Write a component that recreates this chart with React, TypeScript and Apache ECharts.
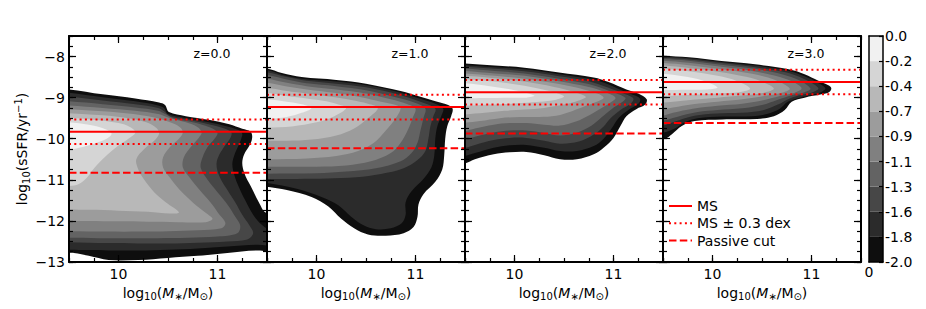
import { useEffect, useRef } from 'react';
import * as echarts from 'echarts';

const FONT = 'DejaVu Sans';

// ---------- data ----------
const redshiftLabels = ['z=0.0', 'z=1.0', 'z=2.0', 'z=3.0'];
const msLine = [-9.83, -9.23, -8.87, -8.62];
const msUpper = [-9.53, -8.93, -8.57, -8.32];
const msLower = [-10.13, -9.53, -9.17, -8.92];
const passiveCut = [-10.83, -10.23, -9.87, -9.62];

const majorXTicks = [10, 11];
const majorYTicks = [-13, -12, -11, -10, -9, -8];

// contour band colours, from level -2.0 (outermost) to 0.0 (innermost)
const levelColors = ['#0e0e0e', '#2b2b2b', '#474747', '#636363', '#808080', '#9c9c9c', '#b8b8b8', '#d5d5d5', '#f1f1f1'];
const colorbarTicks = ['-2.0', '-1.8', '-1.6', '-1.3', '-1.1', '-0.9', '-0.7', '-0.4', '-0.2', '0.0'];

// contour outlines [log M*, log sSFR], outermost first
const contoursZ0 = [
  [[9.3,-8.77],[9.5,-8.8],[9.84,-8.92],[10.17,-9.02],[10.41,-9.12],[10.47,-9.18],[10.51,-9.35],[10.68,-9.45],[10.91,-9.54],[11.12,-9.65],[11.25,-9.76],[11.335,-9.83],[11.35,-9.98],[11.32,-10.18],[11.27,-10.38],[11.25,-10.59],[11.27,-10.83],[11.3,-11.0],[11.335,-11.15],[11.42,-11.56],[11.49,-11.8],[11.7,-11.85],[11.7,-12.75],[11.4,-12.72],[11.1,-12.78],[10.8,-12.85],[10.5,-12.9],[10.2,-12.95],[9.9,-12.95],[9.7,-12.85],[9.55,-12.78],[9.3,-12.74]],
  [[9.3,-8.85],[9.5,-8.88],[9.84,-8.99],[10.17,-9.09],[10.4,-9.19],[10.46,-9.25],[10.5,-9.4],[10.68,-9.5],[10.9,-9.59],[11.1,-9.7],[11.22,-9.8],[11.25,-9.88],[11.24,-10.0],[11.21,-10.18],[11.17,-10.4],[11.15,-10.62],[11.17,-10.88],[11.22,-11.2],[11.28,-11.5],[11.36,-11.85],[11.45,-12.1],[11.55,-12.25],[11.7,-12.3],[11.7,-12.6],[11.4,-12.58],[11.1,-12.62],[10.8,-12.67],[10.5,-12.7],[10.2,-12.72],[9.9,-12.72],[9.7,-12.71],[9.5,-12.7],[9.3,-12.69]],
  [[9.3,-8.95],[9.5,-8.98],[9.84,-9.07],[10.17,-9.16],[10.4,-9.25],[10.46,-9.33],[10.52,-9.45],[10.7,-9.54],[10.9,-9.64],[11.07,-9.75],[11.14,-9.85],[11.13,-9.98],[11.08,-10.15],[11.02,-10.38],[10.99,-10.62],[11.02,-10.92],[11.1,-11.25],[11.18,-11.55],[11.25,-11.85],[11.32,-12.1],[11.36,-12.3],[11.3,-12.45],[11.1,-12.5],[10.8,-12.53],[10.5,-12.55],[10.2,-12.55],[9.9,-12.54],[9.5,-12.52],[9.3,-12.51]],
  [[9.3,-9.06],[9.5,-9.09],[9.84,-9.16],[10.17,-9.24],[10.4,-9.32],[10.47,-9.4],[10.55,-9.5],[10.75,-9.6],[10.92,-9.72],[11.0,-9.85],[10.97,-10.0],[10.9,-10.2],[10.85,-10.45],[10.83,-10.7],[10.9,-11.0],[11.0,-11.3],[11.1,-11.6],[11.18,-11.9],[11.23,-12.12],[11.2,-12.3],[11.0,-12.38],[10.7,-12.41],[10.4,-12.42],[10.1,-12.42],[9.8,-12.42],[9.5,-12.41],[9.3,-12.4]],
  [[9.3,-9.16],[9.5,-9.19],[9.84,-9.25],[10.17,-9.32],[10.4,-9.4],[10.52,-9.5],[10.68,-9.6],[10.8,-9.72],[10.84,-9.85],[10.81,-9.98],[10.73,-10.2],[10.66,-10.45],[10.65,-10.7],[10.72,-10.95],[10.82,-11.25],[10.93,-11.55],[11.02,-11.85],[11.08,-12.05],[11.04,-12.18],[10.8,-12.23],[10.5,-12.25],[10.2,-12.26],[9.9,-12.26],[9.5,-12.25],[9.3,-12.25]],
  [[9.3,-9.26],[9.5,-9.28],[9.84,-9.33],[10.15,-9.4],[10.35,-9.48],[10.52,-9.6],[10.62,-9.72],[10.65,-9.85],[10.61,-10.0],[10.52,-10.2],[10.45,-10.45],[10.45,-10.7],[10.52,-10.95],[10.62,-11.25],[10.75,-11.55],[10.88,-11.8],[10.95,-11.95],[10.88,-12.03],[10.6,-12.03],[10.3,-12.02],[10.0,-12.01],[9.7,-12.0],[9.5,-12.0],[9.3,-12.0]],
  [[9.3,-9.36],[9.5,-9.38],[9.84,-9.43],[10.1,-9.5],[10.28,-9.6],[10.38,-9.73],[10.41,-9.87],[10.36,-10.05],[10.26,-10.25],[10.18,-10.5],[10.2,-10.75],[10.26,-11.0],[10.36,-11.3],[10.48,-11.55],[10.61,-11.79],[10.52,-11.82],[10.3,-11.78],[10.0,-11.75],[9.7,-11.73],[9.5,-11.72],[9.3,-11.72]],
  [[9.3,-9.47],[9.5,-9.49],[9.8,-9.55],[10.0,-9.62],[10.12,-9.72],[10.17,-9.85],[10.1,-10.0],[9.98,-10.2],[9.86,-10.45],[9.76,-10.7],[9.68,-10.95],[9.6,-11.1],[9.5,-11.15],[9.3,-11.17]],
  [[9.3,-9.58],[9.5,-9.6],[9.7,-9.66],[9.85,-9.75],[9.93,-9.87],[9.88,-10.0],[9.75,-10.12],[9.6,-10.22],[9.5,-10.27],[9.3,-10.3]],
];

const contoursZ1 = [
  [[9.3,-8.26],[9.5,-8.29],[9.65,-8.4],[9.85,-8.5],[10.2,-8.57],[10.5,-8.66],[10.85,-8.84],[11.05,-8.98],[11.22,-9.1],[11.33,-9.18],[11.375,-9.27],[11.36,-9.45],[11.32,-9.7],[11.3,-10.0],[11.29,-10.4],[11.27,-10.75],[11.2,-11.05],[11.08,-11.35],[11.03,-11.6],[11.02,-11.9],[10.98,-12.15],[10.88,-12.3],[10.7,-12.36],[10.52,-12.33],[10.38,-12.18],[10.25,-11.95],[10.12,-11.65],[9.95,-11.42],[9.7,-11.25],[9.5,-11.17],[9.3,-11.12]],
  [[9.3,-8.3],[9.5,-8.33],[9.65,-8.44],[9.85,-8.54],[10.2,-8.61],[10.5,-8.7],[10.85,-8.88],[11.05,-9.03],[11.2,-9.15],[11.28,-9.27],[11.26,-9.45],[11.22,-9.7],[11.2,-10.0],[11.19,-10.4],[11.16,-10.7],[11.08,-10.98],[10.96,-11.28],[10.9,-11.55],[10.9,-11.85],[10.86,-12.06],[10.75,-12.18],[10.6,-12.2],[10.47,-12.1],[10.35,-11.9],[10.22,-11.62],[10.05,-11.42],[9.8,-11.22],[9.5,-11.08],[9.3,-11.04]],
  [[9.3,-8.35],[9.5,-8.38],[9.7,-8.5],[9.9,-8.59],[10.2,-8.66],[10.5,-8.75],[10.85,-8.94],[11.05,-9.1],[11.2,-9.27],[11.18,-9.45],[11.15,-9.7],[11.13,-10.0],[11.1,-10.3],[11.02,-10.52],[10.88,-10.72],[10.65,-10.86],[10.4,-10.94],[10.1,-10.97],[9.8,-10.98],[9.5,-10.98],[9.3,-10.98]],
  [[9.3,-8.42],[9.5,-8.45],[9.7,-8.56],[9.9,-8.65],[10.2,-8.72],[10.5,-8.82],[10.8,-8.99],[11.0,-9.13],[11.1,-9.27],[11.08,-9.5],[11.05,-9.8],[11.02,-10.1],[10.96,-10.35],[10.85,-10.55],[10.6,-10.72],[10.3,-10.8],[10.0,-10.84],[9.5,-10.85],[9.3,-10.85]],
  [[9.3,-8.51],[9.5,-8.54],[9.7,-8.64],[9.9,-8.72],[10.2,-8.8],[10.5,-8.9],[10.75,-9.04],[10.92,-9.16],[11.0,-9.27],[10.97,-9.5],[10.92,-9.8],[10.85,-10.1],[10.75,-10.35],[10.55,-10.55],[10.3,-10.65],[10.0,-10.68],[9.5,-10.68],[9.3,-10.68]],
  [[9.3,-8.61],[9.5,-8.64],[9.7,-8.73],[9.9,-8.8],[10.2,-8.89],[10.45,-8.99],[10.65,-9.1],[10.8,-9.18],[10.85,-9.26],[10.8,-9.5],[10.7,-9.8],[10.58,-10.1],[10.42,-10.3],[10.2,-10.42],[9.9,-10.48],[9.5,-10.5],[9.3,-10.5]],
  [[9.3,-8.73],[9.5,-8.76],[9.7,-8.84],[9.9,-8.9],[10.15,-8.98],[10.35,-9.06],[10.52,-9.15],[10.62,-9.25],[10.52,-9.5],[10.38,-9.75],[10.2,-9.92],[9.95,-10.02],[9.7,-10.05],[9.5,-10.05],[9.3,-10.05]],
  [[9.3,-8.86],[9.5,-8.89],[9.7,-8.96],[9.9,-9.02],[10.1,-9.09],[10.22,-9.17],[10.3,-9.25],[10.18,-9.45],[10.0,-9.6],[9.75,-9.7],[9.5,-9.73],[9.3,-9.73]],
  [[9.3,-9.02],[9.5,-9.04],[9.7,-9.1],[9.85,-9.16],[9.95,-9.25],[9.85,-9.37],[9.7,-9.47],[9.5,-9.52],[9.3,-9.52]],
];

const contoursZ2 = [
  [[9.3,-8.16],[9.5,-8.17],[9.8,-8.22],[10.1,-8.27],[10.45,-8.39],[10.8,-8.51],[10.95,-8.62],[11.13,-8.8],[11.25,-8.9],[11.335,-9.04],[11.32,-9.17],[11.23,-9.28],[11.13,-9.45],[11.07,-9.69],[11.0,-9.98],[10.9,-10.22],[10.8,-10.38],[10.63,-10.5],[10.46,-10.5],[10.3,-10.4],[10.12,-10.32],[9.95,-10.33],[9.79,-10.38],[9.6,-10.5],[9.5,-10.6],[9.3,-10.68]],
  [[9.3,-8.2],[9.5,-8.21],[9.8,-8.26],[10.1,-8.31],[10.45,-8.43],[10.8,-8.56],[10.95,-8.68],[11.12,-8.86],[11.22,-8.95],[11.27,-9.04],[11.25,-9.15],[11.15,-9.3],[11.05,-9.5],[10.98,-9.75],[10.9,-10.0],[10.8,-10.18],[10.63,-10.3],[10.46,-10.3],[10.3,-10.22],[10.12,-10.15],[9.95,-10.16],[9.79,-10.22],[9.6,-10.35],[9.5,-10.42],[9.3,-10.5]],
  [[9.3,-8.24],[9.5,-8.25],[9.8,-8.3],[10.1,-8.36],[10.45,-8.48],[10.75,-8.6],[10.95,-8.76],[11.1,-8.9],[11.2,-9.02],[11.17,-9.15],[11.07,-9.3],[10.97,-9.5],[10.9,-9.7],[10.8,-9.9],[10.65,-10.07],[10.46,-10.12],[10.3,-10.05],[10.12,-9.98],[9.95,-9.98],[9.79,-10.03],[9.6,-10.15],[9.5,-10.22],[9.3,-10.3]],
  [[9.3,-8.28],[9.5,-8.29],[9.8,-8.35],[10.1,-8.41],[10.45,-8.54],[10.75,-8.67],[10.95,-8.83],[11.12,-9.0],[11.08,-9.12],[10.98,-9.28],[10.88,-9.48],[10.78,-9.68],[10.62,-9.86],[10.46,-9.92],[10.3,-9.86],[10.12,-9.8],[9.95,-9.8],[9.79,-9.85],[9.6,-9.95],[9.5,-10.02],[9.3,-10.08]],
  [[9.3,-8.34],[9.5,-8.35],[9.8,-8.41],[10.1,-8.47],[10.45,-8.6],[10.75,-8.74],[10.92,-8.87],[11.02,-9.0],[10.98,-9.1],[10.88,-9.25],[10.76,-9.42],[10.62,-9.58],[10.46,-9.68],[10.3,-9.66],[10.12,-9.62],[9.95,-9.62],[9.79,-9.66],[9.6,-9.75],[9.5,-9.81],[9.3,-9.86]],
  [[9.3,-8.4],[9.5,-8.41],[9.8,-8.47],[10.1,-8.54],[10.45,-8.67],[10.7,-8.8],[10.85,-8.91],[10.9,-9.0],[10.85,-9.08],[10.72,-9.2],[10.58,-9.33],[10.42,-9.44],[10.25,-9.47],[10.05,-9.47],[9.85,-9.5],[9.65,-9.57],[9.5,-9.61],[9.3,-9.65]],
  [[9.3,-8.46],[9.5,-8.47],[9.8,-8.53],[10.1,-8.61],[10.4,-8.74],[10.6,-8.86],[10.72,-8.98],[10.65,-9.07],[10.5,-9.17],[10.3,-9.25],[10.1,-9.29],[9.9,-9.32],[9.7,-9.37],[9.5,-9.41],[9.3,-9.44]],
  [[9.3,-8.54],[9.5,-8.55],[9.8,-8.61],[10.1,-8.71],[10.35,-8.84],[10.5,-8.97],[10.42,-9.05],[10.25,-9.1],[10.0,-9.14],[9.75,-9.17],[9.5,-9.2],[9.3,-9.22]],
  [[9.3,-8.64],[9.5,-8.65],[9.75,-8.72],[10.0,-8.82],[10.2,-8.95],[10.12,-9.0],[9.95,-9.0],[9.7,-9.01],[9.5,-9.02],[9.3,-9.03]],
];

const contoursZ3 = [
  [[9.3,-7.97],[9.5,-7.98],[9.76,-8.02],[10.09,-8.11],[10.43,-8.19],[10.77,-8.31],[10.93,-8.43],[11.07,-8.59],[11.17,-8.7],[11.2,-8.77],[11.18,-8.86],[11.1,-8.92],[10.93,-9.0],[10.8,-9.1],[10.73,-9.3],[10.62,-9.45],[10.45,-9.52],[10.1,-9.53],[9.82,-9.57],[9.69,-9.69],[9.59,-9.89],[9.52,-10.0],[9.3,-10.02]],
  [[9.3,-7.99],[9.5,-8.0],[9.76,-8.04],[10.09,-8.13],[10.43,-8.22],[10.77,-8.35],[10.93,-8.48],[11.06,-8.63],[11.14,-8.77],[11.1,-8.86],[11.0,-8.93],[10.88,-9.0],[10.76,-9.1],[10.68,-9.27],[10.55,-9.4],[10.4,-9.45],[10.1,-9.46],[9.85,-9.5],[9.72,-9.6],[9.62,-9.75],[9.5,-9.85],[9.3,-9.88]],
  [[9.3,-8.02],[9.5,-8.03],[9.76,-8.07],[10.09,-8.16],[10.43,-8.26],[10.75,-8.39],[10.92,-8.54],[11.02,-8.67],[11.07,-8.78],[11.02,-8.86],[10.9,-8.93],[10.78,-9.02],[10.66,-9.17],[10.52,-9.3],[10.35,-9.36],[10.1,-9.38],[9.87,-9.42],[9.72,-9.5],[9.6,-9.6],[9.5,-9.68],[9.3,-9.72]],
  [[9.3,-8.05],[9.5,-8.06],[9.76,-8.1],[10.09,-8.2],[10.43,-8.3],[10.72,-8.44],[10.88,-8.58],[10.99,-8.78],[10.93,-8.87],[10.8,-8.94],[10.66,-9.05],[10.5,-9.18],[10.3,-9.26],[10.05,-9.3],[9.85,-9.35],[9.7,-9.43],[9.5,-9.56],[9.3,-9.6]],
  [[9.3,-8.09],[9.5,-8.1],[9.76,-8.15],[10.09,-8.25],[10.4,-8.35],[10.68,-8.5],[10.83,-8.64],[10.9,-8.78],[10.83,-8.88],[10.68,-8.96],[10.5,-9.07],[10.3,-9.15],[10.05,-9.2],[9.8,-9.27],[9.6,-9.37],[9.5,-9.44],[9.3,-9.48]],
  [[9.3,-8.15],[9.5,-8.16],[9.76,-8.21],[10.09,-8.31],[10.4,-8.42],[10.62,-8.56],[10.78,-8.78],[10.7,-8.88],[10.52,-8.96],[10.3,-9.04],[10.05,-9.1],[9.8,-9.16],[9.6,-9.24],[9.5,-9.28],[9.3,-9.3]],
  [[9.3,-8.21],[9.5,-8.22],[9.76,-8.28],[10.09,-8.38],[10.35,-8.5],[10.52,-8.63],[10.62,-8.78],[10.52,-8.88],[10.3,-8.95],[10.05,-9.0],[9.8,-9.05],[9.6,-9.1],[9.5,-9.12],[9.3,-9.13]],
  [[9.3,-8.29],[9.5,-8.3],[9.76,-8.36],[10.05,-8.47],[10.25,-8.6],[10.38,-8.78],[10.28,-8.86],[10.05,-8.9],[9.8,-8.93],[9.5,-8.96],[9.3,-8.97]],
  [[9.3,-8.41],[9.5,-8.42],[9.7,-8.48],[9.9,-8.58],[10.05,-8.75],[9.95,-8.8],[9.75,-8.81],[9.5,-8.82],[9.3,-8.82]],
];

const panelContours = [contoursZ0, contoursZ1, contoursZ2, contoursZ3];

// ---------- layout ----------
const PANEL_LEFT = 69;
const PANEL_W = 198;
const PANEL_TOP = 36;
const PANEL_H = 226;

const BLACK = '#000';

const rich = {
  n: { fontSize: 14, fontFamily: FONT, color: BLACK, lineHeight: 18 },
  it: { fontSize: 14, fontFamily: FONT, color: BLACK, lineHeight: 18, fontStyle: 'italic' },
  sub: { fontSize: 10, fontFamily: FONT, color: BLACK, lineHeight: 8, verticalAlign: 'bottom' },
  sup: { fontSize: 10, fontFamily: FONT, color: BLACK, lineHeight: 8, verticalAlign: 'top' },
};
const xName = '{n|log}{sub|10}{n|(}{it|M}{sub|\u2217}{n|/M}{sub|\u2299}{n|)}';
const yName = '{n|log}{sub|10}{n|(sSFR/yr}{sup|\u22121}{n|)}';

function makeXAxes(p: number) {
  const base: any = { type: 'value', gridIndex: p, min: 9.5, max: 11.5, interval: 0.25, splitLine: { show: false }, z: 6 };
  const lineOn = { show: true, onZero: false, lineStyle: { color: BLACK, width: 2 } };
  const lineOff = { show: false, onZero: false };
  const minorTick = { show: true, inside: true, length: 4, lineStyle: { color: BLACK, width: 1.2 } };
  const majorTick = { show: true, inside: true, length: 7, customValues: majorXTicks, lineStyle: { color: BLACK, width: 1.2 } };
  return [
    { ...base, position: 'bottom', axisLine: lineOn, axisTick: minorTick, axisLabel: { show: false } },
    {
      ...base, position: 'bottom', axisLine: lineOff, axisTick: majorTick,
      axisLabel: {
        show: true, customValues: majorXTicks, margin: 5, fontSize: 14, fontFamily: FONT, color: BLACK,
        formatter: (v: number) => (Number.isInteger(v) ? String(v) : ''),
      },
      name: xName, nameLocation: 'middle', nameGap: 19, nameTextStyle: { rich },
    },
    { ...base, position: 'top', axisLine: lineOn, axisTick: minorTick, axisLabel: { show: false } },
    { ...base, position: 'top', axisLine: lineOff, axisTick: majorTick, axisLabel: { show: false } },
  ];
}

function makeYAxes(p: number) {
  const base: any = { type: 'value', gridIndex: p, min: -13, max: -7.5, interval: 0.25, splitLine: { show: false }, z: 6 };
  const lineOn = { show: true, onZero: false, lineStyle: { color: BLACK, width: 2 } };
  const lineOff = { show: false, onZero: false };
  const minorTick = { show: true, inside: true, length: 4, lineStyle: { color: BLACK, width: 1.2 } };
  const majorTick = { show: true, inside: true, length: 7, customValues: majorYTicks, lineStyle: { color: BLACK, width: 1.2 } };
  const first = p === 0;
  return [
    { ...base, position: 'left', axisLine: lineOn, axisTick: minorTick, axisLabel: { show: false } },
    {
      ...base, position: 'left', axisLine: lineOff, axisTick: majorTick,
      axisLabel: first
        ? {
            show: true, customValues: majorYTicks, margin: 4, fontSize: 14, fontFamily: FONT, color: BLACK,
            formatter: (v: number) => (Number.isInteger(v) ? (v < 0 ? '\u2212' : '') + Math.abs(v) : ''),
          }
        : { show: false },
      ...(first ? { name: yName, nameLocation: 'middle', nameGap: 38, nameRotate: 90, nameTextStyle: { rich } } : {}),
    },
    { ...base, position: 'right', axisLine: lineOn, axisTick: minorTick, axisLabel: { show: false } },
    { ...base, position: 'right', axisLine: lineOff, axisTick: majorTick, axisLabel: { show: false } },
  ];
}

function contourSeries(p: number) {
  const polys = panelContours[p];
  return {
    type: 'custom',
    xAxisIndex: p * 4 + 1,
    yAxisIndex: p * 4 + 1,
    clip: true,
    silent: true,
    z: 1,
    data: polys.map((_, i) => [10.5, -10, i]),
    renderItem: (_params: any, api: any) => {
      const idx = api.value(2);
      const pts = polys[idx].map((pt) => api.coord(pt));
      return {
        type: 'polygon',
        shape: { points: pts, smooth: 0.35 },
        style: { fill: levelColors[idx], stroke: null },
      };
    },
  };
}

function refLine(p: number, name: string, val: number, type: any) {
  return {
    type: 'line',
    name,
    xAxisIndex: p * 4 + 1,
    yAxisIndex: p * 4 + 1,
    data: [[9.5, val], [11.5, val]],
    symbol: 'none',
    showSymbol: false,
    silent: true,
    z: 4,
    lineStyle: { color: '#ff0000', width: 2, type },
    itemStyle: { color: '#ff0000' },
  };
}

export default function App() {
  const ref = useRef<HTMLDivElement>(null);

  useEffect(() => {
    document.body.style.margin = '0';
    const chart = echarts.init(ref.current!, null, { renderer: 'svg' });

    const grids: any[] = [0, 1, 2, 3].map((p) => ({
      left: PANEL_LEFT + p * PANEL_W, top: PANEL_TOP, width: PANEL_W, height: PANEL_H, containLabel: false,
    }));
    grids.push({ left: 869, top: PANEL_TOP, width: 14, height: PANEL_H, containLabel: false });

    const xAxes: any[] = [];
    const yAxes: any[] = [];
    for (let p = 0; p < 4; p++) {
      xAxes.push(...makeXAxes(p));
      yAxes.push(...makeYAxes(p));
    }
    // colour bar axes
    xAxes.push({
      type: 'value', gridIndex: 4, min: 0, max: 1, interval: 1, position: 'bottom', z: 6,
      axisLine: { show: true, onZero: false, lineStyle: { color: BLACK, width: 1.5 } },
      axisTick: { show: false }, splitLine: { show: false },
      axisLabel: { show: true, margin: 3, fontSize: 14, fontFamily: FONT, color: BLACK, formatter: (v: number) => (v === 0 ? '0' : '') },
    });
    xAxes.push({
      type: 'value', gridIndex: 4, min: 0, max: 1, interval: 1, position: 'top', z: 6,
      axisLine: { show: true, onZero: false, lineStyle: { color: BLACK, width: 1.5 } },
      axisTick: { show: false }, splitLine: { show: false }, axisLabel: { show: false },
    });
    yAxes.push({
      type: 'value', gridIndex: 4, min: 0, max: 9, interval: 1, position: 'right', z: 6,
      axisLine: { show: true, onZero: false, lineStyle: { color: BLACK, width: 1.5 } },
      axisTick: { show: true, inside: true, length: 4, lineStyle: { color: BLACK, width: 1.2 } },
      splitLine: { show: false },
      axisLabel: { show: true, margin: 2, fontSize: 14, fontFamily: FONT, color: BLACK, formatter: (v: number) => colorbarTicks[v] ?? '' },
    });
    yAxes.push({
      type: 'value', gridIndex: 4, min: 0, max: 9, interval: 1, position: 'left', z: 6,
      axisLine: { show: true, onZero: false, lineStyle: { color: BLACK, width: 1.5 } },
      axisTick: { show: false }, splitLine: { show: false }, axisLabel: { show: false },
    });

    const series: any[] = [];
    for (let p = 0; p < 4; p++) {
      series.push(contourSeries(p));
      series.push(refLine(p, 'MS', msLine[p], 'solid'));
      series.push(refLine(p, 'MS \u00b1 0.3 dex', msUpper[p], [2, 3.3]));
      series.push(refLine(p, 'MS \u00b1 0.3 dex', msLower[p], [2, 3.3]));
      series.push(refLine(p, 'Passive cut', passiveCut[p], [7.5, 3.3]));
    }
    series.push({
      type: 'custom',
      xAxisIndex: 16,
      yAxisIndex: 16,
      silent: true,
      z: 1,
      data: levelColors.map((_, i) => [0.5, i + 0.5, i]),
      renderItem: (_params: any, api: any) => {
        const i = api.value(2);
        const lo = api.coord([0, i]);
        const hi = api.coord([1, i + 1]);
        return {
          type: 'rect',
          shape: { x: lo[0], y: hi[1], width: hi[0] - lo[0], height: lo[1] - hi[1] },
          style: { fill: levelColors[i], stroke: null },
        };
      },
    });

    const graphics = redshiftLabels.map((t, p) => ({
      type: 'text',
      x: PANEL_LEFT + p * PANEL_W + 143,
      y: 53,
      z: 20,
      style: { text: t, fontSize: 12.5, fontFamily: FONT, fill: BLACK, align: 'center', verticalAlign: 'middle' },
    }));

    chart.setOption({
      animation: false,
      backgroundColor: '#fff',
      textStyle: { fontFamily: FONT },
      grid: grids,
      xAxis: xAxes,
      yAxis: yAxes,
      series,
      legend: {
        data: ['MS', 'MS \u00b1 0.3 dex', 'Passive cut'],
        orient: 'vertical',
        left: 668,
        top: 199,
        padding: 0,
        itemWidth: 23,
        itemHeight: 14,
        itemGap: 3.3,
        selectedMode: false,
        itemStyle: { opacity: 0, borderWidth: 0 },
        textStyle: { fontSize: 14, fontFamily: FONT, color: BLACK, lineHeight: 14 },
      },
      graphic: graphics,
    });

    return () => chart.dispose();
  }, []);

  return (
    <div
      ref={ref}
      style={{ position: 'absolute', left: 0, top: 0, width: 926, height: 309, background: '#fff' }}
    />
  );
}
